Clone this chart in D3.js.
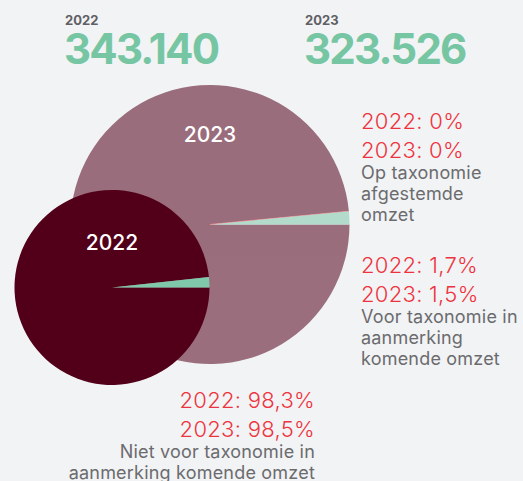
<!DOCTYPE html>
<html>
<head>
<meta charset="utf-8">
<script src="https://cdn.jsdelivr.net/npm/d3@7"></script>
<style>
  html, body { margin: 0; padding: 0; background: #f2f3f5; }
  svg { display: block; font-family: Inter, "Noto Sans", sans-serif; }
</style>
</head>
<body>
<svg id="chart" width="523" height="481"></svg>
<script>
// Data
var years = ["2022", "2023"];
var totals = ["343.140", "323.526"];
var categories = ["Niet voor taxonomie in aanmerking komende omzet", "Op taxonomie afgestemde omzet", "Voor taxonomie in aanmerking komende omzet"];
var shares2022 = [98.3, 0, 1.7];
var shares2023 = [98.5, 0, 1.5];
var labelLines = [
  ["Niet voor taxonomie in", "aanmerking komende omzet"],
  ["Op taxonomie", "afgestemde", "omzet"],
  ["Voor taxonomie in", "aanmerking", "komende omzet"]
];
var pctLabels2022 = ["98,3%", "0%", "1,7%"];
var pctLabels2023 = ["98,5%", "0%", "1,5%"];

var svg = d3.select("#chart");

var color = d3.scaleOrdinal()
    .domain(categories)
    .range(["#520019", "#ee3340", "#7fc8a9"]);

// Header totals
var headX = d3.scalePoint().domain(years).range([65, 305]);
years.forEach(function (y, i) {
    svg.append("text")
        .attr("x", headX(y)).attr("y", 25)
        .attr("font-size", 13).attr("font-weight", 700)
        .attr("fill", "#5f5f64")
        .text(y);
    svg.append("text")
        .attr("x", headX(y) - 1).attr("y", 64)
        .attr("font-size", 42).attr("font-weight", 700)
        .attr("fill", "#77c6a3")
        .attr("letter-spacing", -1.8)
        .text(totals[i]);
});

// Pies: start at 3 o'clock, go clockwise
var pie = d3.pie().sort(null)
    .startAngle(Math.PI / 2)
    .endAngle(Math.PI / 2 + 2 * Math.PI);

function drawPie(values, cx, cy, r, opacity, label, labelY, strokeZero) {
    var g = svg.append("g")
        .attr("transform", "translate(" + [cx, cy] + ")")
        .attr("opacity", opacity);
    var arc = d3.arc().innerRadius(0).outerRadius(r);
    g.selectAll("path")
        .data(pie(values))
        .enter().append("path")
        .attr("d", arc)
        .attr("fill", function (d, i) { return color(categories[i]); })
        .attr("stroke", function (d, i) { return (strokeZero && d.value === 0) ? color(categories[i]) : "none"; })
        .attr("stroke-width", 1.2);
    svg.append("text")
        .attr("x", cx).attr("y", labelY)
        .attr("text-anchor", "middle")
        .attr("font-size", 21).attr("font-weight", 500)
        .attr("fill", "#fff")
        .text(label);
}

drawPie(shares2023, 210, 224.5, 139.5, 0.55, "2023", 142, true);
drawPie(shares2022, 112, 287.5, 97.5, 1, "2022", 250, false);

// Annotations
var red = "#ee3340", grey = "#6b6b6e";
function annotate(i, x, y, anchor) {
    var t = svg.append("text")
        .attr("x", x).attr("y", y)
        .attr("text-anchor", anchor);
    t.append("tspan").attr("x", x).attr("dy", 0)
        .attr("font-size", 22).attr("font-weight", 300).attr("fill", red)
        .attr("letter-spacing", 0.3)
        .text("2022: " + pctLabels2022[i]);
    t.append("tspan").attr("x", x).attr("dy", 29)
        .attr("font-size", 22).attr("font-weight", 300).attr("fill", red)
        .attr("letter-spacing", 0.3)
        .text("2023: " + pctLabels2023[i]);
    labelLines[i].forEach(function (line, k) {
        t.append("tspan").attr("x", x).attr("dy", 21)
            .attr("font-size", 18).attr("fill", grey)
            .attr("letter-spacing", 0.2)
            .text(line);
    });
}

annotate(1, 361, 129, "start");
annotate(2, 361, 273, "start");
annotate(0, 315, 408, "end");
</script>
</body>
</html>
